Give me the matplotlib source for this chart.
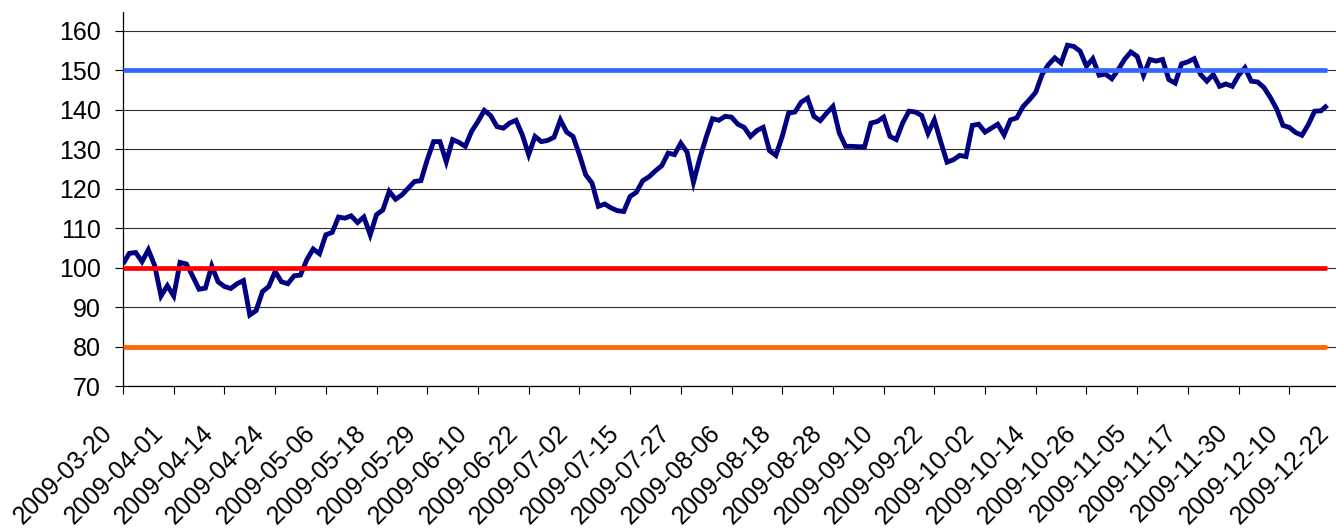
import numpy as np
import matplotlib
matplotlib.use("Agg")
import matplotlib.pyplot as plt
import matplotlib.transforms as mtransforms

tick_labels = ["2009-03-20", "2009-04-01", "2009-04-14", "2009-04-24", "2009-05-06",
               "2009-05-18", "2009-05-29", "2009-06-10", "2009-06-22", "2009-07-02",
               "2009-07-15", "2009-07-27", "2009-08-06", "2009-08-18", "2009-08-28",
               "2009-09-10", "2009-09-22", "2009-10-02", "2009-10-14", "2009-10-26",
               "2009-11-05", "2009-11-17", "2009-11-30", "2009-12-10", "2009-12-22"]
label_step = 8

index_values = [
    100.9, 103.6, 103.8, 101.5, 104.5, 100.5, 92.8, 95.4, 92.8, 101.3,
    100.9, 97.8, 94.5, 94.8, 100.4, 96.4, 95.2, 94.7, 95.9, 96.7,
    88.0, 89.1, 93.9, 95.2, 99.0, 96.4, 95.9, 97.9, 98.1, 102.0,
    104.7, 103.5, 108.3, 108.9, 112.8, 112.5, 113.1, 111.4, 112.8, 108.3,
    113.4, 114.6, 119.3, 117.3, 118.4, 120.1, 121.8, 122.0, 127.3, 131.9,
    131.9, 126.8, 132.4, 131.7, 130.7, 134.5, 137.0, 139.8, 138.5, 135.7,
    135.3, 136.6, 137.3, 133.6, 128.6, 133.2, 131.9, 132.2, 133.0, 137.4,
    134.3, 133.2, 128.6, 123.5, 121.4, 115.5, 116.1, 115.1, 114.4, 114.2,
    118.0, 119.1, 122.0, 123.0, 124.5, 125.8, 129.0, 128.6, 131.5, 129.2,
    121.6, 127.7, 133.0, 137.7, 137.3, 138.3, 138.1, 136.3, 135.5, 133.2,
    134.7, 135.5, 129.6, 128.4, 133.2, 139.1, 139.4, 141.9, 142.9, 138.3,
    137.2, 139.1, 140.8, 134.1, 130.7, 130.7, 130.6, 130.6, 136.6, 137.0,
    138.1, 133.2, 132.4, 136.6, 139.6, 139.4, 138.5, 134.0, 137.4, 131.9,
    126.7, 127.3, 128.4, 128.1, 136.0, 136.3, 134.3, 135.3, 136.3, 133.6,
    137.4, 137.9, 140.8, 142.5, 144.4, 148.9, 151.4, 153.1, 151.8, 156.3,
    156.0, 154.8, 151.0, 152.9, 148.7, 149.0, 147.8, 150.1, 152.7, 154.6,
    153.5, 148.7, 152.7, 152.3, 152.7, 147.6, 146.7, 151.6, 152.1, 152.9,
    148.9, 147.2, 148.9, 145.9, 146.5, 145.9, 148.7, 150.6, 147.2, 147.0,
    145.6, 143.1, 140.2, 136.0, 135.5, 134.2, 133.5, 136.2, 139.6, 139.7,
    141.1,
]

upper_level = 150
base_level = 100
lower_level = 80

y_ticks = [70, 80, 90, 100, 110, 120, 130, 140, 150, 160]

plt.rcParams['font.family'] = ['Liberation Sans', 'DejaVu Sans']

W, H = 1336, 529
fig = plt.figure(figsize=(W / 100, H / 100), dpi=100)
left_px, right_px, top_px, bottom_px = 123, 1340, 11.7, 386
ax = fig.add_axes([left_px / W, 1 - bottom_px / H,
                   (right_px - left_px) / W, (bottom_px - top_px) / H])

x = np.arange(len(index_values))
ax.plot(x, index_values, color='#000080', lw=3.5, solid_joinstyle='miter',
        solid_capstyle='butt', zorder=3)
for level, col in [(upper_level, '#3366FF'), (base_level, '#FF0000'),
                   (lower_level, '#FF6600')]:
    ax.plot(x, np.full(len(x), level), color=col, lw=3.4,
            solid_capstyle='butt', zorder=4)

ax.set_xlim(0, (len(tick_labels) - 1) * label_step)
ax.set_ylim(70, 164.8)
ax.set_yticks(y_ticks)
ax.set_yticklabels([str(v) for v in y_ticks])
ax.set_xticks(np.arange(len(tick_labels)) * label_step)
ax.set_xticklabels(tick_labels, rotation=45, ha='right', va='top',
                   rotation_mode='anchor', fontsize=18)

ax.grid(axis='y', color='#303030', lw=0.8)
ax.set_axisbelow(True)
for s in ['top', 'right']:
    ax.spines[s].set_visible(False)
for s in ['left', 'bottom']:
    ax.spines[s].set_color('black')
    ax.spines[s].set_linewidth(0.9)
ax.tick_params(axis='both', direction='out', length=6, width=0.8, color='black')
ax.tick_params(axis='y', pad=10, labelsize=18)
ax.tick_params(axis='x', pad=6)

shift = mtransforms.ScaledTranslation(-23 / 100, -18 / 100, fig.dpi_scale_trans)
for lab in ax.get_xticklabels():
    lab.set_transform(lab.get_transform() + shift)

fig.savefig('out.png', dpi=100)
